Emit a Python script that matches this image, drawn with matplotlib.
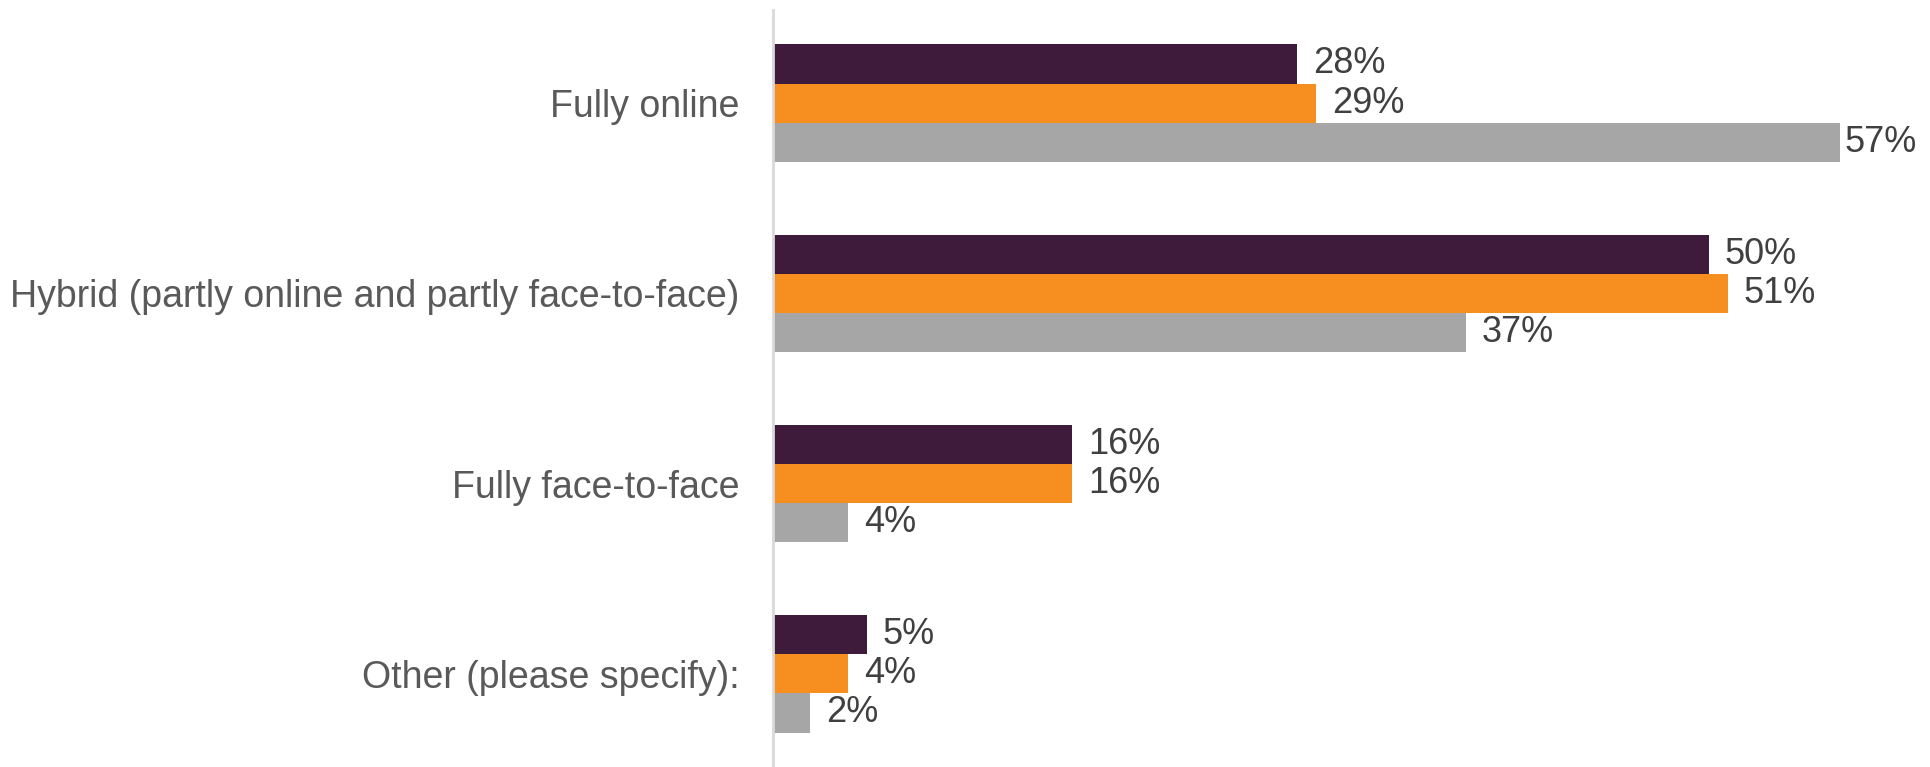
import numpy as np
import matplotlib
matplotlib.use("Agg")
import matplotlib.pyplot as plt

plt.rcParams["font.family"] = ["Liberation Sans", "DejaVu Sans"]

categories = ["Fully online",
              "Hybrid (partly online and partly face-to-face)",
              "Fully face-to-face",
              "Other (please specify):"]
series_purple = [28, 50, 16, 5]
series_orange = [29, 51, 16, 4]
series_grey = [57, 37, 4, 2]

COLORS = ["#3E1A3B", "#F68F1F", "#A6A6A6"]

fig = plt.figure(figsize=(19.31, 7.67), dpi=100)
ax = fig.add_axes([0.4003, 0.0, 0.5816, 0.987])

all_vals = series_purple + series_orange + series_grey
vmax = max(all_vals)

y = np.arange(len(categories))
h = 0.206
for k, (vals, col) in enumerate(zip([series_purple, series_orange, series_grey], COLORS)):
    pos = y + (k - 1) * h
    ax.barh(pos, vals, height=h, color=col, zorder=2)
    for p, v in zip(pos, vals):
        # the longest bar's label is pulled in so it fits the image
        off = 3 if v == vmax else 11.5
        ax.annotate(f"{v}%", (v, p), xytext=(off, 0), textcoords="offset points",
                    va="center", ha="left", fontsize=26, color="#404040",
                    annotation_clip=False)

ax.set_xlim(0, 60)
ax.set_ylim(3.49, -0.49)
ax.set_yticks(y)
ax.set_yticklabels(categories, fontsize=27, color="#595959")
ax.tick_params(axis="y", length=0, pad=24)
ax.set_xticks([])
for s in ["top", "right", "bottom"]:
    ax.spines[s].set_visible(False)
ax.spines["left"].set_color("#D9D9D9")
ax.spines["left"].set_linewidth(2)

fig.savefig("out.png", dpi=100, facecolor="white")
